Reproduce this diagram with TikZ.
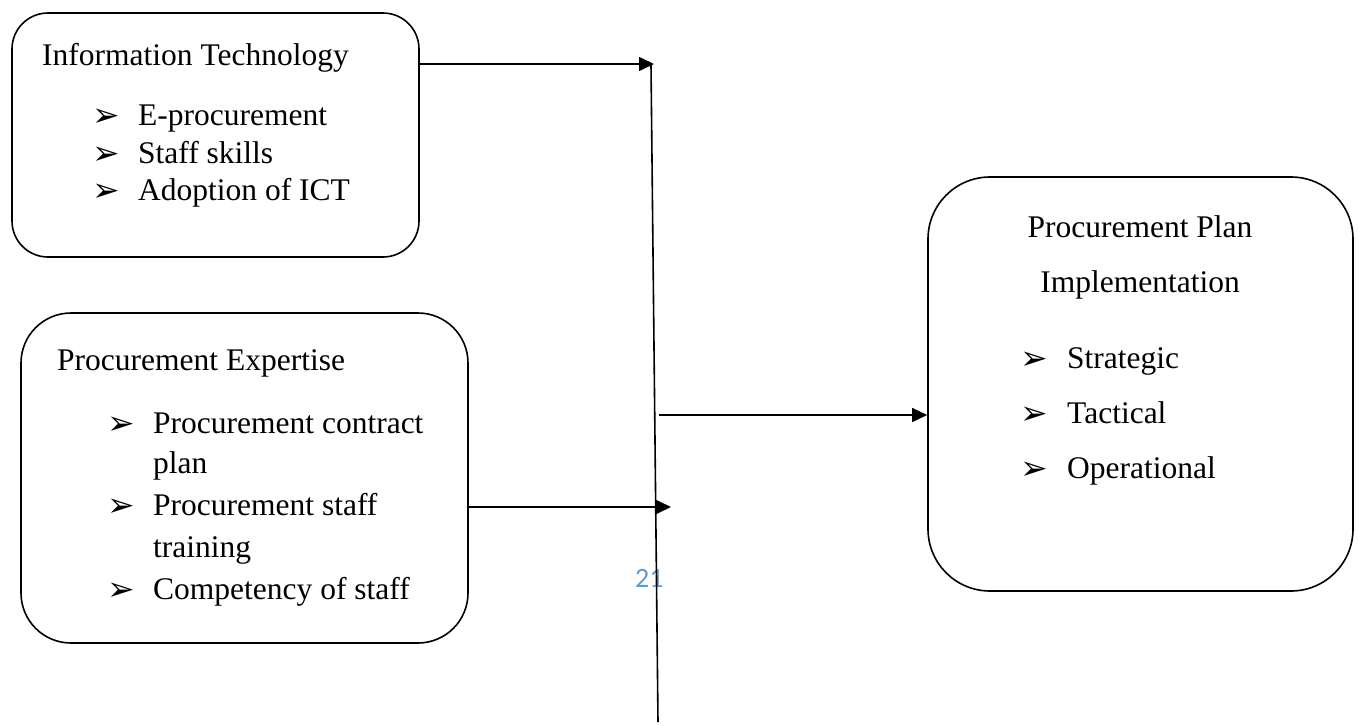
\documentclass[tikz,border=0pt]{standalone}
\usepackage{fontspec}
\setmainfont{Liberation Serif}
\newfontfamily\bulfont{DejaVu Sans}
\newfontfamily\pgnumfont{Carlito}
\usetikzlibrary{arrows.meta}
\definecolor{pgblue}{HTML}{5B9BD5}
\tikzset{
  box/.style={draw, line width=1.6pt, rectangle, inner sep=0pt},
  txt/.style={anchor=base west, inner sep=0pt, font=\fontsize{31.5}{31.5}\selectfont},
  ttl/.style={anchor=base, inner sep=0pt, font=\fontsize{31.5}{31.5}\selectfont},
  bl/.style={anchor=base west, inner sep=0pt, font=\bulfont\fontsize{33}{33}\selectfont},
  arr/.style={line width=1.6pt, -{Triangle[length=15pt,width=14pt]}},
  ln/.style={line width=1.6pt}
}
\begin{document}
\begin{tikzpicture}[x=1pt,y=-1pt]
\useasboundingbox (0,0) rectangle (1361,726);
% boxes
\node[box, minimum width=407pt, minimum height=244pt, rounded corners=36pt] (it) at (215.5,135) {};
\node[box, minimum width=447pt, minimum height=330pt, rounded corners=50pt] (pe) at (244.5,478) {};
\node[box, minimum width=425pt, minimum height=414pt, rounded corners=62pt] (pp) at (1140.5,384) {};
% box 1 text
\node[txt] (t1) at (42,65) {Information Technology};
\node[bl] (b11) at (92,126) {➢};
\node[txt] (t11) at (138,125) {E-procurement};
\node[bl] (b12) at (92,164) {➢};
\node[txt] (t12) at (138,163) {Staff skills};
\node[bl] (b13) at (92,201) {➢};
\node[txt] (t13) at (138,200) {Adoption of ICT};
% box 2 text
\node[txt] (t2) at (57,370) {Procurement Expertise};
\node[bl] (b21) at (107,434) {➢};
\node[txt] (t21) at (153,433) {Procurement contract};
\node[txt] (t21b) at (153,473) {plan};
\node[bl] (b22) at (107,516) {➢};
\node[txt] (t22) at (153,515) {Procurement staff};
\node[txt] (t22b) at (153,557) {training};
\node[bl] (b23) at (107,600) {➢};
\node[txt] (t23) at (153,599) {Competency of staff};
% box 3 text
\node[ttl] (t3) at (1140,237) {Procurement Plan};
\node[ttl] (t3b) at (1140,292) {Implementation};
\node[bl] (b31) at (1020,369) {➢};
\node[txt] (t31) at (1067,368) {Strategic};
\node[bl] (b32) at (1020,424) {➢};
\node[txt] (t32) at (1067,423) {Tactical};
\node[bl] (b33) at (1020,479) {➢};
\node[txt] (t33) at (1067,478) {Operational};
% page number
\node[anchor=base west, inner sep=0pt, text=pgblue, font=\pgnumfont\fontsize{28}{28}\selectfont] (pg) at (635,587) {21};
% connectors
\coordinate (busT) at (651,65);
\coordinate (busB) at (658,722);
\draw[ln] (busT) -- (busB);
\coordinate (j1) at (654,64);
\draw[arr] (j1 -| it.east) -- (j1);
\coordinate (j2) at (671,507);
\draw[arr] (j2 -| pe.east) -- (j2);
\coordinate (j3) at (659,415);
\draw[arr] (j3) -- (j3 -| pp.west);
\end{tikzpicture}
\end{document}
